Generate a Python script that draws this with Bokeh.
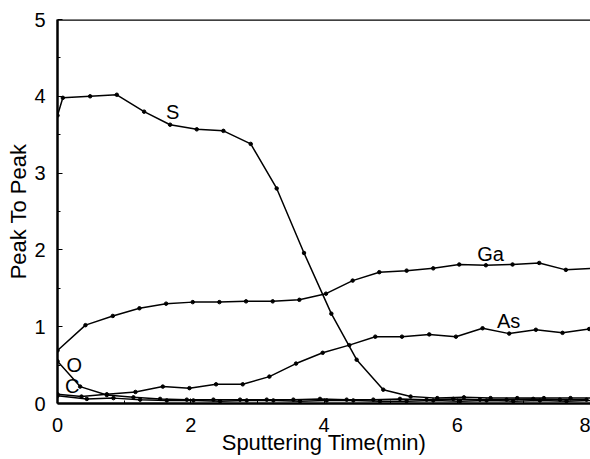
from bokeh.plotting import figure
from bokeh.models import Span, Range1d, FixedTicker, Label
from bokeh.embed import file_html
from bokeh.resources import INLINE

# ---- data ----
s_x = [0.0, 0.08, 0.49, 0.89, 1.30, 1.69, 2.09, 2.49, 2.90, 3.29, 3.70, 4.11, 4.49, 4.89, 5.30, 5.70, 6.10, 6.50, 6.90, 7.30, 7.70, 8.10]
s_y = [3.75, 3.98, 4.00, 4.02, 3.80, 3.63, 3.57, 3.55, 3.38, 2.80, 1.96, 1.17, 0.57, 0.18, 0.09, 0.07, 0.08, 0.07, 0.07, 0.07, 0.07, 0.07]

ga_x = [0.0, 0.42, 0.83, 1.23, 1.63, 2.03, 2.43, 2.83, 3.23, 3.63, 4.03, 4.43, 4.83, 5.24, 5.64, 6.03, 6.43, 6.83, 7.23, 7.63, 8.03]
ga_y = [0.69, 1.02, 1.14, 1.24, 1.30, 1.32, 1.32, 1.33, 1.33, 1.35, 1.43, 1.60, 1.71, 1.73, 1.76, 1.81, 1.80, 1.81, 1.83, 1.74, 1.76]

as_x = [0.0, 0.36, 0.74, 1.17, 1.58, 1.98, 2.38, 2.78, 3.18, 3.58, 3.98, 4.38, 4.77, 5.17, 5.58, 5.98, 6.38, 6.78, 7.18, 7.58, 7.98]
as_y = [0.12, 0.09, 0.12, 0.15, 0.22, 0.20, 0.25, 0.25, 0.35, 0.52, 0.66, 0.76, 0.87, 0.87, 0.90, 0.87, 0.98, 0.91, 0.96, 0.92, 0.97]

o_x = [0.0, 0.34, 0.74, 1.14, 1.54, 1.94, 2.34, 2.74, 3.14, 3.54, 3.94, 4.34, 4.74, 5.14, 5.54, 5.94, 6.34, 6.74, 7.14, 7.54, 7.94]
o_y = [0.55, 0.22, 0.11, 0.08, 0.06, 0.05, 0.05, 0.05, 0.05, 0.05, 0.06, 0.05, 0.05, 0.06, 0.05, 0.06, 0.05, 0.05, 0.06, 0.05, 0.05]

c_x = [0.0, 0.44, 0.84, 1.24, 1.64, 2.04, 2.44, 2.84, 3.24, 3.64, 4.04, 4.44, 4.84, 5.24, 5.64, 6.04, 6.44, 6.84, 7.24, 7.64, 8.04]
c_y = [0.10, 0.06, 0.07, 0.05, 0.04, 0.04, 0.03, 0.04, 0.04, 0.03, 0.04, 0.04, 0.03, 0.03, 0.04, 0.03, 0.04, 0.03, 0.04, 0.03, 0.04]

series_names = ["S", "Ga", "As", "O", "C"]
x_ticks = [0, 2, 4, 6, 8]
y_ticks = [0, 1, 2, 3, 4, 5]

FONT = "Liberation Sans"

p = figure(width=590, height=459, output_backend="svg", toolbar_location=None,
           x_range=Range1d(0, 8), y_range=Range1d(0, 5),
           min_border_left=57, min_border_right=0, min_border_top=19, min_border_bottom=56)

p.outline_line_color = None
p.grid.visible = False
p.background_fill_color = "white"
p.border_fill_color = "white"

for xs, ys in [(s_x, s_y), (ga_x, ga_y), (as_x, as_y), (o_x, o_y), (c_x, c_y)]:
    p.line(xs, ys, line_color="black", line_width=1.5)
    p.scatter(xs, ys, size=3.5, color="black")

# top border
p.add_layout(Span(location=5, dimension="width", line_color="black", line_width=2.5))

ax = p.xaxis[0]
ax.ticker = FixedTicker(ticks=x_ticks, minor_ticks=[1, 3, 5, 7])
ax.axis_label = "Sputtering Time(min)"
ay = p.yaxis[0]
ay.ticker = FixedTicker(ticks=y_ticks, minor_ticks=[0.5, 1.5, 2.5, 3.5, 4.5])
ay.axis_label = "Peak To Peak"

for a in (ax, ay):
    a.axis_line_width = 2.5
    a.axis_line_color = "black"
    a.major_tick_in = 5
    a.major_tick_out = 0
    a.minor_tick_in = 3
    a.minor_tick_out = 0
    a.major_tick_line_color = "black"
    a.minor_tick_line_color = "black"
    a.major_label_text_font = FONT
    a.major_label_text_font_size = "20px"
    a.major_label_text_color = "black"
    a.axis_label_text_font = FONT
    a.axis_label_text_font_size = "22px"
    a.axis_label_text_font_style = "normal"
    a.axis_label_text_color = "black"

ax.major_label_standoff = 14
ax.axis_label_standoff = -5
ay.major_label_standoff = 12
ay.axis_label_standoff = 0

label_pos = {"S": (1.73, 3.79), "Ga": (6.5, 1.95), "As": (6.77, 1.08), "O": (0.25, 0.50), "C": (0.22, 0.23)}
for name in series_names:
    lx, ly = label_pos[name]
    p.add_layout(Label(x=lx, y=ly, text=name, text_font=FONT, text_font_size="20px",
                       text_align="center", text_baseline="middle", text_color="black"))

open("out.html", "w").write(file_html(p, INLINE))
